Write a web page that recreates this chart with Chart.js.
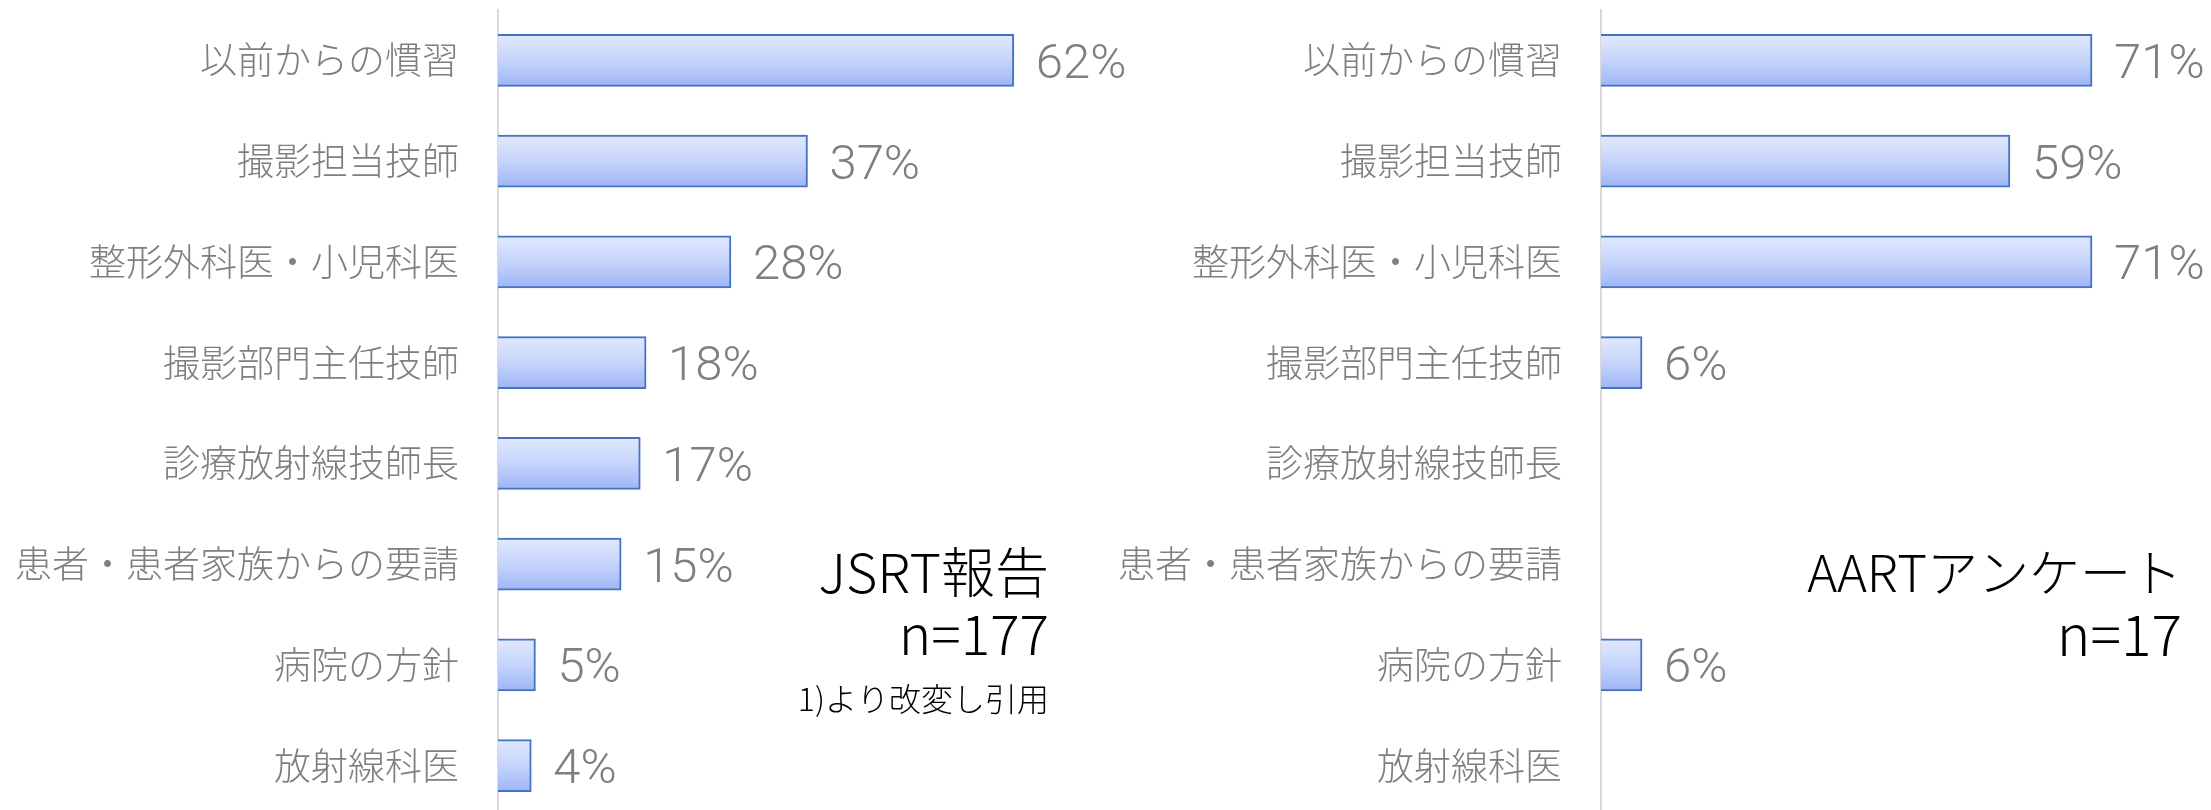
<!DOCTYPE html>
<html>
<head>
<meta charset="utf-8">
<script src="https://cdn.jsdelivr.net/npm/chart.js@4"></script>
<style>
  html, body { margin: 0; padding: 0; background: #ffffff; }
  body { width: 2211px; height: 810px; overflow: hidden; position: relative; }
  canvas { position: absolute; top: 0; }
  #left { left: 0; }
  #right { left: 1100px; }
</style>
</head>
<body>
<canvas id="left" width="1160" height="816"></canvas>
<canvas id="right" width="1111" height="816"></canvas>
<script>
// ---- data ----
const categories = [
  '以前からの慣習',
  '撮影担当技師',
  '整形外科医・小児科医',
  '撮影部門主任技師',
  '診療放射線技師長',
  '患者・患者家族からの要請',
  '病院の方針',
  '放射線科医'
];
const jsrtValues = [62, 37.2, 28, 17.8, 17.1, 14.8, 4.5, 4];
const aartValues = [70.6, 58.8, 70.6, 5.9, null, null, 5.9, null];
const jsrtNotes = ['JSRT報告', 'n=177', '1)より改変し引用'];
const aartNotes = ['AARTアンケート', 'n=17'];

Chart.defaults.animation = false;
Chart.defaults.devicePixelRatio = 1;

const LABEL_GREY = '#7f7f7f';
const CJK = "'Noto Sans CJK JP', 'Noto Sans CJK SC', sans-serif";

function barGradient(context) {
  const chart = context.chart;
  const ys = chart.scales && chart.scales.y;
  if (!ys || context.dataIndex === undefined) return '#c3d1fb';
  const y = ys.getPixelForValue(context.dataIndex);
  if (!isFinite(y)) return '#c3d1fb';
  const g = chart.ctx.createLinearGradient(0, y - 26, 0, y + 26);
  g.addColorStop(0, '#e1e9fe');
  g.addColorStop(0.5, '#c6d4fb');
  g.addColorStop(1, '#9db5f6');
  return g;
}

const valueLabels = {
  id: 'valueLabels',
  afterDatasetsDraw(chart) {
    const ctx = chart.ctx;
    const meta = chart.getDatasetMeta(0);
    const data = chart.data.datasets[0].data;
    ctx.save();
    ctx.font = '300 49px Roboto, "Liberation Sans", sans-serif';
    ctx.fillStyle = LABEL_GREY;
    ctx.textAlign = 'left';
    ctx.textBaseline = 'alphabetic';
    meta.data.forEach((el, i) => {
      const v = data[i];
      if (v === null || v === undefined) return;
      ctx.fillText(Math.round(v) + '%', el.x + 22, el.y + 17.5);
    });
    ctx.restore();
  }
};

function notesPlugin(lines, xRight, specs) {
  return {
    id: 'notes',
    afterDraw(chart) {
      const ctx = chart.ctx;
      ctx.save();
      ctx.fillStyle = '#000000';
      ctx.textAlign = 'right';
      ctx.textBaseline = 'alphabetic';
      lines.forEach((t, i) => {
        ctx.font = '300 ' + specs[i].size + 'px ' + CJK;
        ctx.fillText(t, xRight, specs[i].base);
      });
      ctx.restore();
    }
  };
}

function makeChart(id, values, axisWidth, xMax, padRight, notes) {
  return new Chart(document.getElementById(id), {
    type: 'bar',
    data: {
      labels: categories,
      datasets: [{
        data: values,
        backgroundColor: barGradient,
        borderColor: '#4472c4',
        borderWidth: 2,
        borderSkipped: 'start',
        barThickness: 52
      }]
    },
    options: {
      indexAxis: 'y',
      responsive: false,
      maintainAspectRatio: false,
      layout: { padding: { top: 10, bottom: 0, left: 0, right: padRight } },
      plugins: { legend: { display: false }, tooltip: { enabled: false } },
      scales: {
        x: { display: false, min: 0, max: xMax },
        y: {
          grid: { display: false, drawTicks: false },
          border: { display: true, color: '#d9d9d9', width: 2 },
          ticks: {
            color: LABEL_GREY,
            padding: 39,
            font: { family: CJK, size: 37, weight: 300 }
          },
          afterFit(scale) {
            scale.width = axisWidth;
            scale.paddingTop = 0;
            scale.paddingBottom = 0;
          }
        }
      }
    },
    plugins: [valueLabels, notes]
  });
}

makeChart('left', jsrtValues, 498, 70, 1160 - (498 + 8.32 * 70),
  notesPlugin(jsrtNotes, 1049, [{size: 54, base: 593}, {size: 55, base: 655}, {size: 32, base: 711}]));
makeChart('right', aartValues, 501, 80, 1111 - (501 + 6.955 * 80),
  notesPlugin(aartNotes, 1082, [{size: 51, base: 592}, {size: 57, base: 656}]));
</script>
</body>
</html>
